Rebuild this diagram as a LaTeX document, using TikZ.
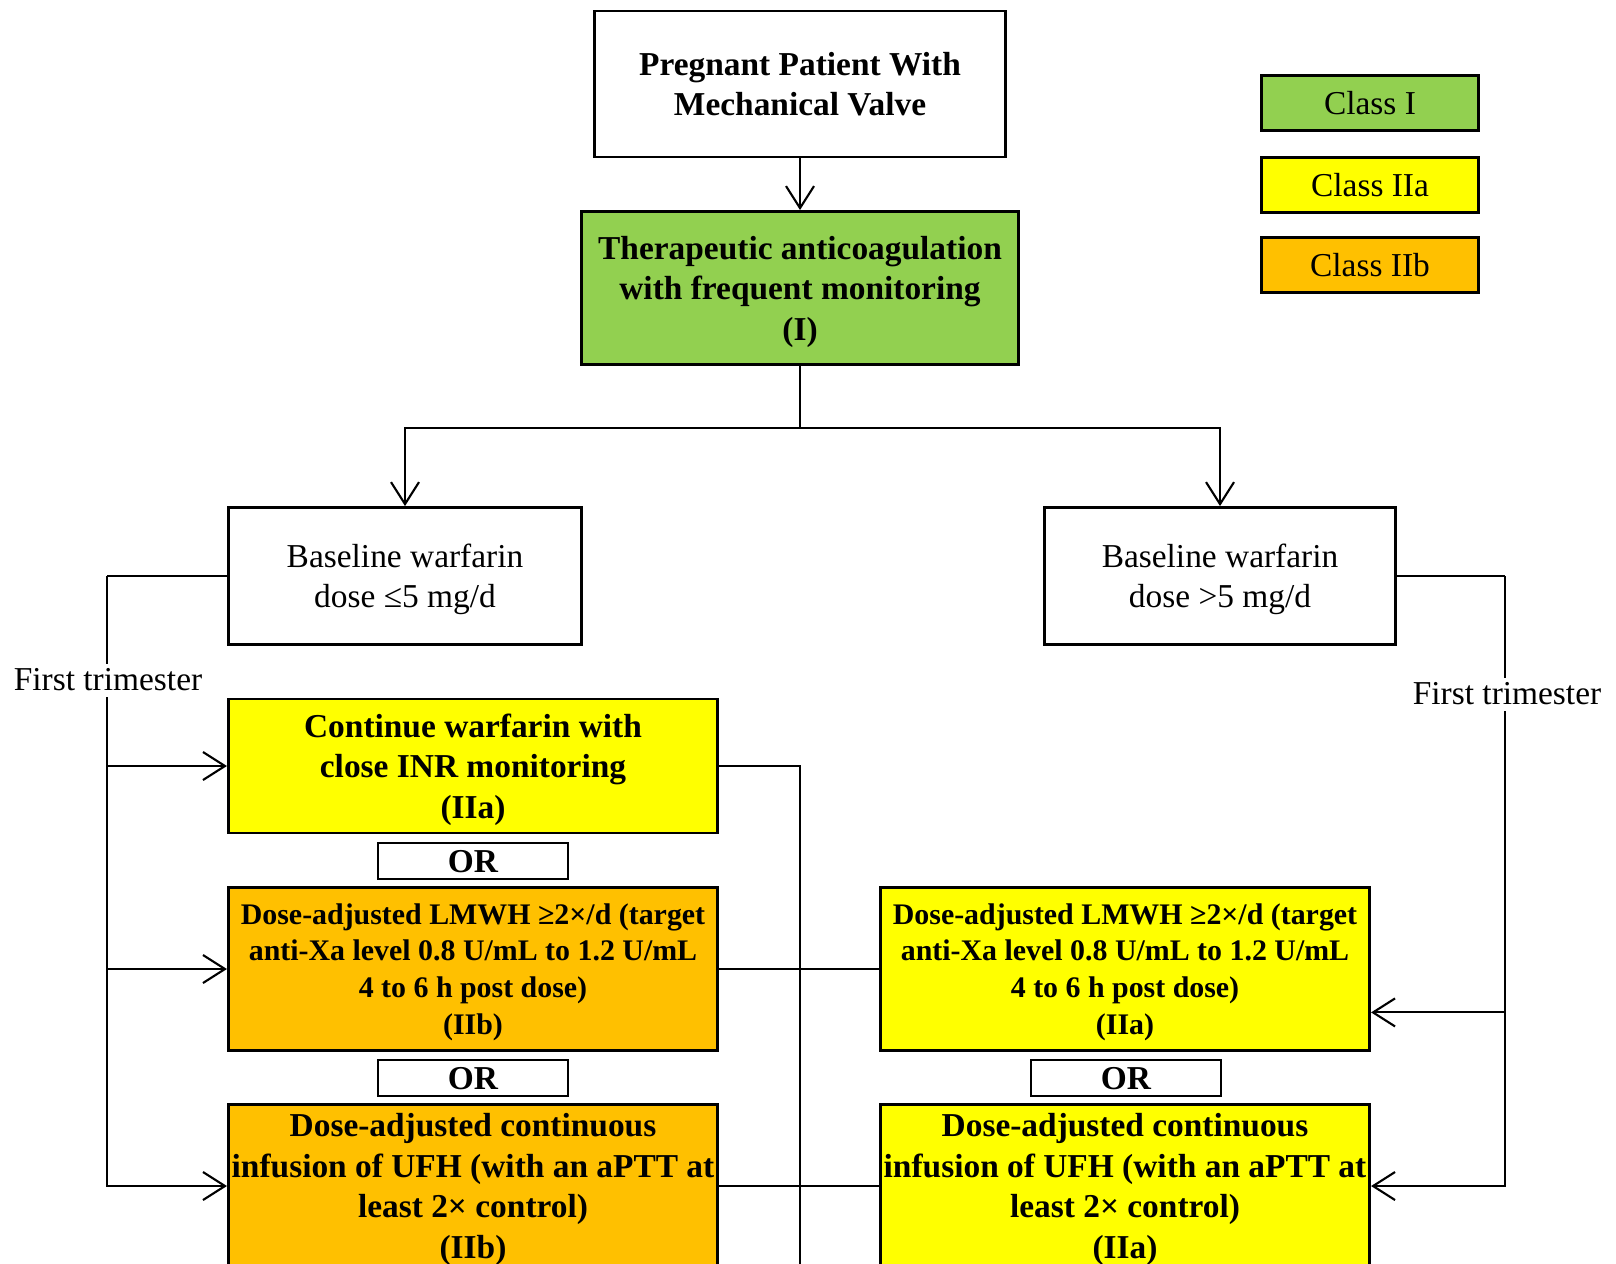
\documentclass[tikz,border=0pt]{standalone}
\usepackage{fontspec}
\setmainfont{Liberation Serif}
\usepackage{xcolor}
\usetikzlibrary{arrows.meta,positioning}

\definecolor{clsone}{HTML}{92D050}
\definecolor{clstwoa}{HTML}{FFFF00}
\definecolor{clstwob}{HTML}{FFC000}

\begin{document}
\begin{tikzpicture}[x=0.01cm, y=-0.01cm,
    >={Straight Barb[length=2.2mm, width=2.8mm]},
    box/.style={rectangle, draw, line width=0.8pt, align=center, inner sep=0.5pt, text depth=0pt, font=\fontsize{9.5}{11.3}\selectfont},
    wbox/.style={box, fill=white},
    boldbox/.style={box, font=\fontsize{9.5}{11.5}\selectfont\bfseries},
    stepbox/.style={boldbox, minimum width=4.89cm, minimum height=1.63cm},
    smallstep/.style={stepbox, font=\fontsize{8.5}{10.5}\selectfont\bfseries},
    orbox/.style={boldbox, fill=white, minimum width=1.90cm, minimum height=0.36cm},
    legend/.style={box, minimum width=2.17cm, minimum height=0.55cm},
    trim/.style={fill=white, inner sep=1.5pt, font=\fontsize{9.5}{11.3}\selectfont},
    conn/.style={line width=0.6pt}
]
    \useasboundingbox (0,0) rectangle (1616,1263);
    \clip (0,0) rectangle (1616,1263);
    \fill[white] (0,0) rectangle (1616,1263);

    \node[boldbox, fill=white, minimum width=4.10cm, minimum height=1.46cm] (patient) at (800,84) {Pregnant Patient With\\Mechanical Valve};
    \node[boldbox, fill=clsone, minimum width=4.36cm, minimum height=1.53cm] (therapy) at (800,288) {Therapeutic anticoagulation\\with frequent monitoring\\(I)};

    \node[legend, fill=clsone] (leg1) at (1370,103) {Class I};
    \node[legend, fill=clstwoa] (leg2) at (1370,185) {Class IIa};
    \node[legend, fill=clstwob] (leg3) at (1370,265) {Class IIb};

    \node[wbox, minimum width=3.53cm, minimum height=1.37cm] (base1) at (405,576) {Baseline warfarin\\dose ≤5 mg/d};
    \node[wbox, minimum width=3.51cm, minimum height=1.37cm] (base2) at (1220,576) {Baseline warfarin\\dose >5 mg/d};

    \node[boldbox, fill=clstwoa, minimum width=4.89cm, minimum height=1.34cm] (cont) at (473,766) {Continue warfarin with\\close INR monitoring\\(IIa)};
    \node[orbox] (or1) at (473,861) {OR};
    \node[smallstep, fill=clstwob] (lmwh1) at (473,969) {Dose-adjusted LMWH ≥2×/d (target\\anti-Xa level 0.8 U/mL to 1.2 U/mL\\4 to 6 h post dose)\\(IIb)};
    \node[orbox] (or2) at (473,1078) {OR};
    \node[stepbox, fill=clstwob] (ufh1) at (473,1186) {Dose-adjusted continuous\\infusion of UFH (with an aPTT at\\least 2× control)\\(IIb)};

    \node[smallstep, fill=clstwoa] (lmwh2) at (1125,969) {Dose-adjusted LMWH ≥2×/d (target\\anti-Xa level 0.8 U/mL to 1.2 U/mL\\4 to 6 h post dose)\\(IIa)};
    \node[orbox] (or3) at (1126,1078) {OR};
    \node[stepbox, fill=clstwoa] (ufh2) at (1125,1186) {Dose-adjusted continuous\\infusion of UFH (with an aPTT at\\least 2× control)\\(IIa)};

    \coordinate (split) at (800,428);
    \coordinate (lrail) at (107,576);
    \coordinate (rrail) at (1505,576);
    \coordinate (cdrop) at (800,1280);

    \draw[conn, ->] (patient) -- (therapy);
    \draw[conn] (therapy) -- (split);
    \draw[conn, ->] (split) -| (base1);
    \draw[conn, ->] (split) -| (base2);

    \draw[conn] (base1) -- (lrail);
    \draw[conn, ->] (lrail) |- (cont);
    \draw[conn, ->] (lrail) |- (lmwh1);
    \draw[conn, ->] (lrail) |- (ufh1);

    \draw[conn] (base2) -- (rrail);
    \draw[conn, ->] (rrail) |- (lmwh2.-10);
    \draw[conn, ->] (rrail) |- (ufh2);

    \draw[conn] (cont) -| (cdrop);
    \draw[conn] (lmwh1) -- (lmwh2);
    \draw[conn] (ufh1) -- (ufh2);

    \node[trim] (ft1) at (108,680) {First trimester};
    \node[trim] (ft2) at (1507,694) {First trimester};
\end{tikzpicture}
\end{document}
